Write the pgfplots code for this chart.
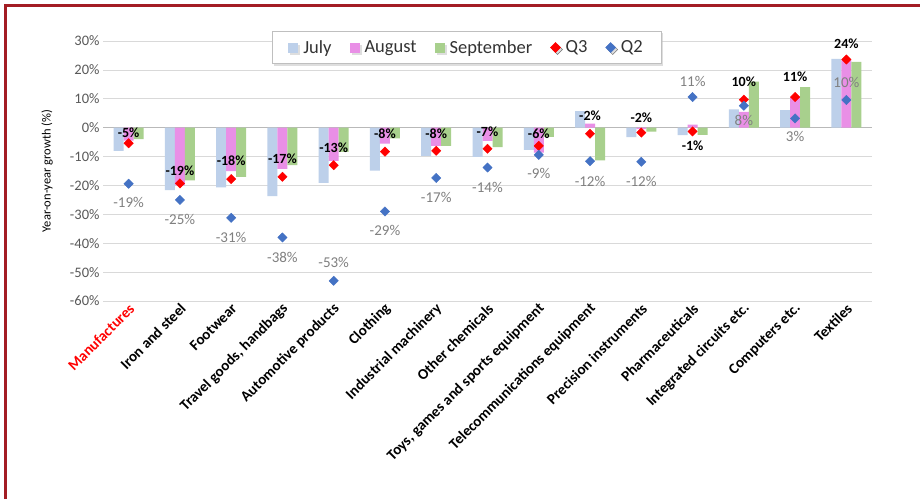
\documentclass[border=0pt]{standalone}
\usepackage{fontspec}
\setmainfont{Carlito}
\usepackage{pgfplots}
\usepackage{pgfplotstable}
\pgfplotsset{compat=1.18}
\usetikzlibrary{shadows}
\definecolor{julyc}{HTML}{BDD0EA}
\definecolor{augc}{HTML}{E98FE6}
\definecolor{sepc}{HTML}{A8D08D}
\definecolor{q3c}{HTML}{FF0000}
\definecolor{q2c}{HTML}{4472C4}
\definecolor{borderc}{HTML}{A31D24}
\definecolor{lblgray}{HTML}{808080}
\definecolor{tickgray}{HTML}{595959}

\pgfplotstableread{
cat july aug sep q3 q2 q3s q2s
0 -8.0 -4.5 -4.0 -5.4 -19.4 11 -19
1 -21.6 -20.0 -18.2 -19.3 -25.0 13 -20
2 -20.7 -15.0 -17.0 -17.8 -31.2 18 -20
3 -23.7 -14.3 -13.0 -17.0 -38.0 18 -20
4 -19.1 -11.5 -8.4 -13.0 -53.0 18 18
5 -14.9 -5.5 -3.7 -8.3 -29.0 18 -19
6 -9.8 -6.3 -6.3 -8.0 -17.4 17 -19
7 -10.1 -4.6 -6.7 -7.3 -13.8 17 -20
8 -7.7 -8.6 -3.2 -6.3 -9.4 12 -19
9 5.7 1.4 -11.3 -2.1 -11.6 18 -20
10 -3.3 -0.5 -1.4 -1.7 -11.8 15 -20
11 -2.6 1.1 -2.5 -1.3 10.6 -14 16
12 6.3 5.5 15.9 9.7 7.6 18 -15
13 6.1 10.6 14.0 10.6 3.2 20 -18
14 23.8 23.3 22.8 23.6 9.6 16 18
}\data

\begin{document}
\begin{tikzpicture}
\useasboundingbox (0,0) rectangle (920pt,-499pt);
\fill[white] (0,0) rectangle (920pt,-499pt);
\draw[borderc, line width=3pt] (5pt,-499pt) -- (5pt,-5pt) -- (920pt,-5pt);
\begin{axis}[
 at={(103pt,-301pt)}, anchor=south west,
 scale only axis, width=769pt, height=260pt,
 xmin=-0.5, xmax=14.5, ymin=-60, ymax=30,
 ytick={-60,-50,...,30},
 xtick={0,...,14},
 xticklabels={\textcolor{red}{Manufactures}, Iron and steel, Footwear, {Travel goods, handbags}, Automotive products, Clothing, Industrial machinery, Other chemicals, {Toys, games and sports equipment}, Telecommunications equipment, Precision instruments, Pharmaceuticals, Integrated circuits etc., Computers etc., Textiles},
 axis line style={draw=none},
 major tick length=0pt,
 ymajorgrids, grid style={draw=gray!30, line width=0.8pt},
 extra y ticks={0}, extra y tick labels={},
 extra y tick style={grid style={draw=gray!55, line width=1pt}},
 /pgf/number format/assume math mode=true,
 yticklabel={\pgfmathprintnumber{\tick}\%},
 yticklabel style={font=\fontsize{14.5}{17}\selectfont, text=tickgray, xshift=0pt},
 xticklabel style={rotate=45, anchor=east, xshift=2pt, yshift=-6pt, font=\bfseries\fontsize{15}{18}\selectfont, text=black},
 ylabel={Year-on-year growth (\%)},
 ylabel style={at={(axis description cs:-0.0728,0.5)}, anchor=center, rotate=0, font=\fontsize{12.5}{15}\selectfont, text=black},
 clip=false,
 legend columns=5,
 legend style={at={(0.4727,0.975)}, anchor=center, draw=gray!50, fill=white,
   font=\fontsize{18.5}{22}\selectfont, text=black!80,
   drop shadow={shadow xshift=2pt, shadow yshift=-2pt, fill=gray!50},
   inner xsep=16pt, inner ysep=7pt,
   /tikz/every even column/.append style={column sep=16pt},
   /tikz/every odd column/.append style={column sep=3pt}},
]
\addplot[ybar, bar width=10pt, bar shift=-10pt, fill=julyc, draw=none,
  legend image code/.code={\fill[julyc] (0pt,-5pt) rectangle (10pt,5pt);}]
  table[x=cat,y=july]{\data};
\addlegendentry{July}
\addplot[ybar, bar width=10pt, bar shift=0pt, fill=augc, draw=none,
  legend image code/.code={\fill[augc] (0pt,-5pt) rectangle (10pt,5pt);}]
  table[x=cat,y=aug]{\data};
\addlegendentry{August}
\addplot[ybar, bar width=10pt, bar shift=10pt, fill=sepc, draw=none,
  legend image code/.code={\fill[sepc] (0pt,-5pt) rectangle (10pt,5pt);}]
  table[x=cat,y=sep]{\data};
\addlegendentry{September}
\addplot[only marks, mark=square*, mark size=3.3pt, mark options={rotate=45, fill=q3c, draw=q3c},
  visualization depends on={\thisrow{q3s}\as\lshift},
  point meta=y,
  nodes near coords={\pgfmathprintnumber[fixed,precision=0]{\pgfplotspointmeta}\%},
  nodes near coords style={anchor=center, yshift=\lshift*1pt, font=\bfseries\fontsize{14}{16}\selectfont, text=black},
  legend image code/.code={\fill[q3c] (5pt,5pt) -- (10pt,0pt) -- (5pt,-5pt) -- (0pt,0pt) -- cycle;}]
  table[x=cat,y=q3]{\data};
\addlegendentry{Q3}
\addplot[only marks, mark=square*, mark size=3.3pt, mark options={rotate=45, fill=q2c, draw=q2c},
  visualization depends on={\thisrow{q2s}\as\lshift},
  point meta=y,
  nodes near coords={\pgfmathprintnumber[fixed,precision=0]{\pgfplotspointmeta}\%},
  nodes near coords style={anchor=center, yshift=\lshift*1pt, font=\fontsize{15}{17}\selectfont, text=lblgray},
  legend image code/.code={\fill[q2c] (5pt,5pt) -- (10pt,0pt) -- (5pt,-5pt) -- (0pt,0pt) -- cycle;}]
  table[x=cat,y=q2]{\data};
\addlegendentry{Q2}
\end{axis}
\end{tikzpicture}
\end{document}
